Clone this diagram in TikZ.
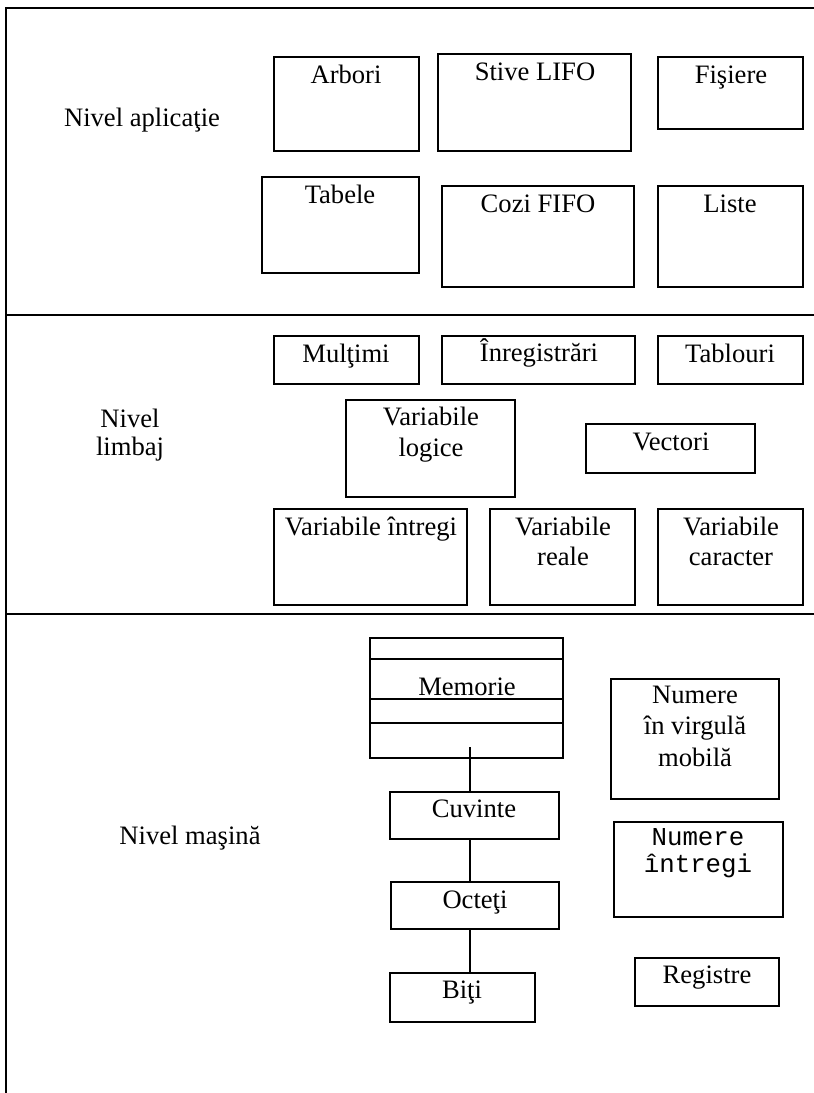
\documentclass[tikz,border=0pt]{standalone}
\usepackage{fontspec}
\setmainfont{Liberation Serif}
\setmonofont{Liberation Mono}
\tikzset{
  bx/.style={draw, line width=1.6pt, inner sep=0pt, outer sep=0pt},
  thinbx/.style={draw, line width=1.1pt, inner sep=0pt, outer sep=0pt},
  lbl/.style={anchor=base, inner sep=0pt, outer sep=0pt, align=center, font=\fontsize{26.6}{31}\selectfont},
  monolbl/.style={anchor=base, inner sep=0pt, outer sep=0pt, align=center, font=\fontsize{25.8}{27}\selectfont\ttfamily},
  rule/.style={line width=2pt},
  conn/.style={line width=1.6pt},
}
\newcommand\mkbox[6][bx]{\node[#1, minimum width={(#4-#2)*1pt}, minimum height={(#5-#3)*1pt}] (#6) at ({(#2+#4)/2},{(#3+#5)/2}) {};}
\begin{document}
\begin{tikzpicture}[x=1pt,y=-1pt]
\useasboundingbox (0,0) rectangle (814,1093);
% frame and level separators
\coordinate (tl) at (6,8);
\coordinate (tr) at (814,8);
\coordinate (bl) at (6,1093);
\coordinate (s1l) at (6,315);
\coordinate (s1r) at (814,315);
\coordinate (s2l) at (6,614);
\coordinate (s2r) at (814,614);
\draw[rule] (tr) -- (tl) -- (bl);
\draw[rule] (s1l) -- (s1r);
\draw[rule] (s2l) -- (s2r);

% application level
\mkbox{274}{57}{419}{151}{arbori}
\mkbox{438}{54}{631}{151}{stive}
\mkbox{658}{57}{803}{129}{fisiere}
\mkbox{262}{177}{419}{273}{tabele}
\mkbox{442}{186}{634}{287}{cozi}
\mkbox{658}{186}{803}{287}{liste}
\node[lbl] (arborit) at (346,83) {Arbori};
\node[lbl] (stivet) at (535,80) {Stive LIFO};
\node[lbl] (fisieret) at (731,83) {Fişiere};
\node[lbl] (tabelet) at (340,203) {Tabele};
\node[lbl] (cozit) at (538,212) {Cozi FIFO};
\node[lbl] (listet) at (730,212) {Liste};
\node[lbl] (nivapl) at (142,126) {Nivel aplicaţie};

% language level
\mkbox{274}{336}{419}{384}{multimi}
\mkbox{442}{336}{635}{384}{inreg}
\mkbox{658}{336}{803}{384}{tablouri}
\mkbox{346}{400}{515}{497}{varlog}
\mkbox{586}{424}{755}{473}{vectori}
\mkbox{274}{509}{467}{605}{varint}
\mkbox{490}{509}{635}{605}{varreal}
\mkbox{658}{509}{803}{605}{varcar}
\node[lbl] (multimit) at (346,362) {Mulţimi};
\node[lbl] (inregt) at (539,361) {Înregistrări};
\node[lbl] (tablourit) at (730,362) {Tablouri};
\node[lbl] (varlogt) at (431,456) {Variabile\\logice};
\node[lbl] (vectorit) at (671,450) {Vectori};
\node[lbl] (varintt) at (371,535) {Variabile întregi};
\node[lbl, font=\fontsize{26.6}{30}\selectfont] (varrealt) at (563,565) {Variabile\\reale};
\node[lbl, font=\fontsize{26.6}{30}\selectfont] (varcart) at (731,565) {Variabile\\caracter};
\node[lbl, font=\fontsize{26.6}{28}\selectfont] (nivlim) at (130,455) {Nivel\\limbaj};

% machine level
\mkbox{370}{638}{563}{758}{mem}
\draw[conn] (mem.west |- 0,659) -- (mem.east |- 0,659);
\draw[conn] (mem.west |- 0,699) -- (mem.east |- 0,699);
\draw[conn] (mem.west |- 0,723) -- (mem.east |- 0,723);
\mkbox{390}{792}{559}{839}{cuv}
\mkbox{391}{882}{559}{929}{oct}
\mkbox{390}{973}{535}{1022}{biti}
\mkbox{611}{679}{779}{799}{numvirg}
\mkbox[thinbx]{614}{822}{783}{917}{numint}
\mkbox{635}{958}{779}{1006}{reg}
\coordinate (memconn) at (470,747);
\draw[conn] (memconn) -- (memconn |- cuv.north);
\draw[conn] (memconn |- cuv.south) -- (memconn |- oct.north);
\draw[conn] (memconn |- oct.south) -- (memconn |- biti.north);
\node[lbl] (memt) at (467,695) {Memorie};
\node[lbl] (cuvt) at (474,817) {Cuvinte};
\node[lbl] (octt) at (475,908) {Octeţi};
\node[lbl] (bitit) at (462,998) {Biţi};
\node[lbl, font=\fontsize{26.6}{31.5}\selectfont] (numvirgt) at (695,766) {Numere\\în virgulă\\mobilă};
\node[monolbl] (numintt) at (698,872) {Numere\\întregi};
\node[lbl] (regt) at (707,983) {Registre};
\node[lbl] (nivmas) at (190,844) {Nivel maşină};
\end{tikzpicture}
\end{document}
